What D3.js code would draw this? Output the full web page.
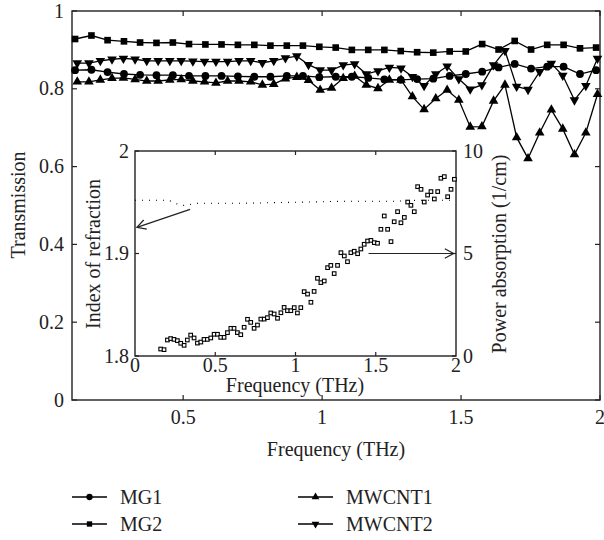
<!DOCTYPE html>
<html>
<head>
<meta charset="utf-8">
<script src="https://cdn.jsdelivr.net/npm/d3@7"></script>
<style>
  body { margin: 0; background: #fff; }
  svg text { font-family: "Liberation Serif", "DejaVu Serif", serif; fill: #222; }
</style>
</head>
<body>
<div id="chart"></div>
<script>
// main plot: transmission, sampled at two different grids
const freqMG = [0.111, 0.170, 0.228, 0.287, 0.345, 0.404, 0.463, 0.521, 0.580, 0.638, 0.697,
  0.756, 0.814, 0.873, 0.931, 0.990, 1.049, 1.107, 1.166, 1.224, 1.283, 1.342, 1.400, 1.459,
  1.517, 1.576, 1.635, 1.693, 1.752, 1.810, 1.869, 1.928, 1.986];
const mg1 = [0.848, 0.849, 0.843, 0.838, 0.836, 0.835, 0.835, 0.833, 0.833, 0.833, 0.832,
  0.831, 0.831, 0.833, 0.833, 0.830, 0.831, 0.831, 0.828, 0.824, 0.823, 0.825, 0.826, 0.833,
  0.838, 0.844, 0.855, 0.864, 0.852, 0.857, 0.857, 0.838, 0.848];
const mg2 = [0.928, 0.937, 0.925, 0.922, 0.919, 0.918, 0.919, 0.915, 0.914, 0.914, 0.913,
  0.913, 0.911, 0.911, 0.911, 0.908, 0.906, 0.900, 0.900, 0.900, 0.897, 0.894, 0.893, 0.896,
  0.896, 0.915, 0.901, 0.923, 0.901, 0.913, 0.913, 0.904, 0.906];

const freqMW = [0.119, 0.161, 0.202, 0.244, 0.285, 0.327, 0.369, 0.410, 0.452, 0.493, 0.535,
  0.577, 0.618, 0.660, 0.701, 0.743, 0.785, 0.826, 0.868, 0.909, 0.951, 0.993, 1.034, 1.076,
  1.117, 1.159, 1.201, 1.242, 1.284, 1.325, 1.367, 1.409, 1.450, 1.492, 1.533, 1.575, 1.617,
  1.658, 1.700, 1.741, 1.783, 1.825, 1.866, 1.908, 1.949, 1.991];
const mwcnt1 = [0.818, 0.818, 0.823, 0.827, 0.828, 0.824, 0.820, 0.820, 0.823, 0.824, 0.820,
  0.818, 0.815, 0.820, 0.820, 0.818, 0.810, 0.812, 0.826, 0.830, 0.822, 0.797, 0.802, 0.827,
  0.833, 0.810, 0.801, 0.823, 0.823, 0.780, 0.747, 0.775, 0.797, 0.771, 0.702, 0.703, 0.769,
  0.810, 0.675, 0.621, 0.687, 0.746, 0.697, 0.631, 0.687, 0.786];
const mwcnt2 = [0.866, 0.866, 0.872, 0.876, 0.878, 0.876, 0.872, 0.872, 0.872, 0.872, 0.871,
  0.870, 0.870, 0.870, 0.872, 0.872, 0.867, 0.872, 0.879, 0.884, 0.862, 0.848, 0.848, 0.861,
  0.864, 0.838, 0.846, 0.855, 0.853, 0.831, 0.808, 0.838, 0.858, 0.825, 0.799, 0.810, 0.861,
  0.898, 0.806, 0.798, 0.844, 0.865, 0.834, 0.771, 0.808, 0.878];

const mainXTicks = [0.5, 1, 1.5, 2];
const mainYTicks = [0, 0.2, 0.4, 0.6, 0.8, 1];

// inset: index of refraction (dotted) and power absorption (squares)
const freqIdx = [0, 0.2, 0.25, 0.3, 0.35, 0.4, 0.6, 1.0, 1.4, 1.6, 1.8, 2.0];
const index = [1.952, 1.952, 1.949, 1.947, 1.948, 1.949, 1.949, 1.950, 1.951, 1.951, 1.952, 1.952];
const freqAbs = [0.160, 0.181, 0.202, 0.222, 0.243, 0.264, 0.285, 0.306, 0.326, 0.347, 0.368,
  0.389, 0.410, 0.430, 0.451, 0.472, 0.493, 0.514, 0.534, 0.555, 0.576, 0.597, 0.617, 0.638,
  0.659, 0.680, 0.701, 0.721, 0.742, 0.763, 0.784, 0.805, 0.825, 0.846, 0.867, 0.888, 0.909,
  0.929, 0.950, 0.971, 0.992, 1.012, 1.033, 1.054, 1.075, 1.096, 1.116, 1.137, 1.158, 1.179,
  1.200, 1.220, 1.241, 1.262, 1.283, 1.304, 1.324, 1.345, 1.366, 1.387, 1.407, 1.428, 1.449,
  1.470, 1.491, 1.511, 1.532, 1.553, 1.574, 1.595, 1.615, 1.636, 1.657, 1.678, 1.699, 1.719,
  1.740, 1.761, 1.782, 1.802, 1.823, 1.844, 1.865, 1.886, 1.906, 1.927, 1.948, 1.969, 1.990];
const absorption = [0.34, 0.31, 0.78, 0.85, 0.81, 0.75, 0.62, 0.52, 0.78, 1.02, 0.88,
  0.63, 0.68, 0.81, 0.81, 0.88, 1.06, 1.06, 0.91, 0.91, 1.14, 1.35, 1.35, 1.14,
  1.04, 1.40, 1.79, 1.64, 1.35, 1.51, 1.80, 1.80, 1.87, 2.10, 2.05, 1.84, 2.11,
  2.37, 2.21, 2.21, 2.36, 2.10, 2.36, 3.14, 3.02, 2.62, 3.15, 3.79, 3.58, 3.66,
  4.31, 4.42, 4.02, 4.42, 5.04, 4.88, 4.60, 5.04, 5.11, 4.99, 5.22, 5.45, 5.61,
  5.64, 5.53, 5.50, 6.18, 6.83, 6.18, 5.58, 6.55, 7.04, 6.50, 6.76, 7.51, 7.35,
  7.04, 8.26, 8.13, 7.51, 7.85, 8.02, 7.66, 8.02, 8.67, 8.75, 7.77, 8.13, 8.62];
const insetXTicks = [0, 0.5, 1, 1.5, 2];
const insetLeftTicks = [1.8, 1.9, 2];
const insetRightTicks = [0, 5, 10];

const series = [
  { name: "MG1", freq: freqMG, values: mg1, symbol: d3.symbolCircle, size: 48 },
  { name: "MG2", freq: freqMG, values: mg2, symbol: d3.symbolSquare, size: 44 },
  { name: "MWCNT1", freq: freqMW, values: mwcnt1, symbol: d3.symbolTriangle, size: 40, rot: 0 },
  { name: "MWCNT2", freq: freqMW, values: mwcnt2, symbol: d3.symbolTriangle, size: 40, rot: 180 }
];

const width = 604, height = 540;
const ink = "#222";
const svg = d3.select("#chart").append("svg")
  .attr("width", width).attr("height", height);

const x = d3.scaleLinear().domain([0.1, 2]).range([72, 600]);
const y = d3.scaleLinear().domain([0, 1]).range([400, 11]);

// frame and inward ticks, matlab style box
function boxAxes(g, xs, yl, yr, xt, ylt, yrt, len) {
  const [x0, x1] = xs.range();
  const [y0, y1] = yl.range();
  g.append("rect").attr("x", x0).attr("y", y1).attr("width", x1 - x0).attr("height", y0 - y1)
    .attr("fill", "none").attr("stroke", ink).attr("stroke-width", 1.4);
  xt.forEach(t => {
    g.append("line").attr("x1", xs(t)).attr("x2", xs(t)).attr("y1", y0).attr("y2", y0 - len)
      .attr("stroke", ink).attr("stroke-width", 1.2);
    g.append("line").attr("x1", xs(t)).attr("x2", xs(t)).attr("y1", y1).attr("y2", y1 + len)
      .attr("stroke", ink).attr("stroke-width", 1.2);
  });
  ylt.forEach(t => g.append("line").attr("x1", x0).attr("x2", x0 + len)
    .attr("y1", yl(t)).attr("y2", yl(t)).attr("stroke", ink).attr("stroke-width", 1.2));
  yrt.forEach(t => g.append("line").attr("x1", x1).attr("x2", x1 - len)
    .attr("y1", yr(t)).attr("y2", yr(t)).attr("stroke", ink).attr("stroke-width", 1.2));
}

const main = svg.append("g");
boxAxes(main, x, y, y, mainXTicks, mainYTicks, mainYTicks, 5);

main.selectAll(".xl").data(mainXTicks).enter().append("text")
  .attr("x", d => x(d)).attr("y", 424).attr("text-anchor", "middle")
  .style("font-size", "20px").text(d => d);
main.selectAll(".yl").data(mainYTicks).enter().append("text")
  .attr("x", 64).attr("y", d => y(d)).attr("dy", "0.33em").attr("text-anchor", "end")
  .style("font-size", "20px").text(d => d);
main.append("text").attr("x", 336).attr("y", 456).attr("text-anchor", "middle")
  .style("font-size", "20px").text("Frequency (THz)");
main.append("text").attr("transform", "translate(25,205) rotate(-90)")
  .attr("text-anchor", "middle").style("font-size", "20px").text("Transmission");

const line = d3.line();
series.forEach(s => {
  const pts = s.freq.map((f, i) => [x(f), y(s.values[i])]);
  main.append("path").attr("d", line(pts)).attr("fill", "none")
    .attr("stroke", "#000").attr("stroke-width", 1.3);
  main.selectAll(null).data(pts).enter().append("path")
    .attr("d", d3.symbol().type(s.symbol).size(s.size))
    .attr("transform", d => "translate(" + d + ")" + (s.rot ? "rotate(" + s.rot + ")" : ""))
    .attr("fill", "#000");
});

// inset
const ix = d3.scaleLinear().domain([0, 2]).range([135, 456]);
const iyL = d3.scaleLinear().domain([1.8, 2]).range([356, 151]);
const iyR = d3.scaleLinear().domain([0, 10]).range([356, 151]);
const inset = svg.append("g");
inset.append("rect").attr("x", 135).attr("y", 151).attr("width", 321).attr("height", 205)
  .attr("fill", "#fff");
boxAxes(inset, ix, iyL, iyR, [0.5, 1, 1.5], insetLeftTicks, insetRightTicks, 4);

inset.append("path")
  .attr("d", d3.line().curve(d3.curveMonotoneX)(freqIdx.map((f, i) => [ix(f), iyL(index[i])])))
  .attr("fill", "none").attr("stroke", "#000").attr("stroke-width", 1.1)
  .attr("stroke-dasharray", "1,6");

inset.selectAll(".abs").data(freqAbs).enter().append("rect")
  .attr("x", d => ix(d) - 1.8).attr("y", (d, i) => iyR(absorption[i]) - 1.8)
  .attr("width", 3.6).attr("height", 3.6)
  .attr("fill", "#fff").attr("stroke", "#000").attr("stroke-width", 1.1);

// arrows pointing to the axis each curve belongs to
function arrow(g, x1, y1, x2, y2) {
  g.append("line").attr("x1", x1).attr("y1", y1).attr("x2", x2).attr("y2", y2)
    .attr("stroke", ink).attr("stroke-width", 1.2);
  const a = Math.atan2(y2 - y1, x2 - x1), h = 10, w = 0.5;
  g.append("path").attr("d", "M" + (x2 - h * Math.cos(a - w)) + "," + (y2 - h * Math.sin(a - w)) +
      "L" + x2 + "," + y2 + "L" + (x2 - h * Math.cos(a + w)) + "," + (y2 - h * Math.sin(a + w)))
    .attr("fill", "none").attr("stroke", ink).attr("stroke-width", 1.2);
}
arrow(inset, ix(0.343), iyL(1.943), ix(0.012), iyL(1.9255));
arrow(inset, ix(1.455), iyR(5), ix(1.985), iyR(5));

inset.selectAll(".ixl").data(insetXTicks).enter().append("text")
  .attr("x", d => ix(d)).attr("y", 372).attr("text-anchor", "middle")
  .style("font-size", "20px").text(d => d);
inset.selectAll(".iyl").data(insetLeftTicks).enter().append("text")
  .attr("x", 129).attr("y", d => iyL(d)).attr("dy", "0.33em").attr("text-anchor", "end")
  .style("font-size", "20px").text(d => d3.format(".1f")(d).replace(/^2\.0$/, "2"));
inset.selectAll(".iyr").data(insetRightTicks).enter().append("text")
  .attr("x", 463).attr("y", d => iyR(d)).attr("dy", "0.33em").attr("text-anchor", "start")
  .style("font-size", "20px").text(d => d);
inset.append("text").attr("x", 295).attr("y", 392).attr("text-anchor", "middle")
  .style("font-size", "20px").text("Frequency (THz)");
inset.append("text").attr("transform", "translate(100,254) rotate(-90)")
  .attr("text-anchor", "middle").style("font-size", "20px").text("Index of refraction");
inset.append("text").attr("transform", "translate(506,254) rotate(-90)")
  .attr("text-anchor", "middle").style("font-size", "20px").text("Power absorption (1/cm)");

// legend, two columns, markers a bit smaller than in the plot
const legend = svg.append("g");
series.forEach((s, i) => {
  const lx = i < 2 ? 72 : 298, ly = i % 2 === 0 ? 497 : 524;
  legend.append("line").attr("x1", lx).attr("x2", lx + 35).attr("y1", ly).attr("y2", ly)
    .attr("stroke", "#000").attr("stroke-width", 1.3);
  legend.append("path").attr("d", d3.symbol().type(s.symbol).size(s.size * 0.65))
    .attr("transform", "translate(" + (lx + 17.5) + "," + ly + ")" + (s.rot ? "rotate(" + s.rot + ")" : ""))
    .attr("fill", "#000");
  legend.append("text").attr("x", lx + 48).attr("y", ly + 7)
    .style("font-size", "20px").text(s.name);
});
</script>
</body>
</html>
